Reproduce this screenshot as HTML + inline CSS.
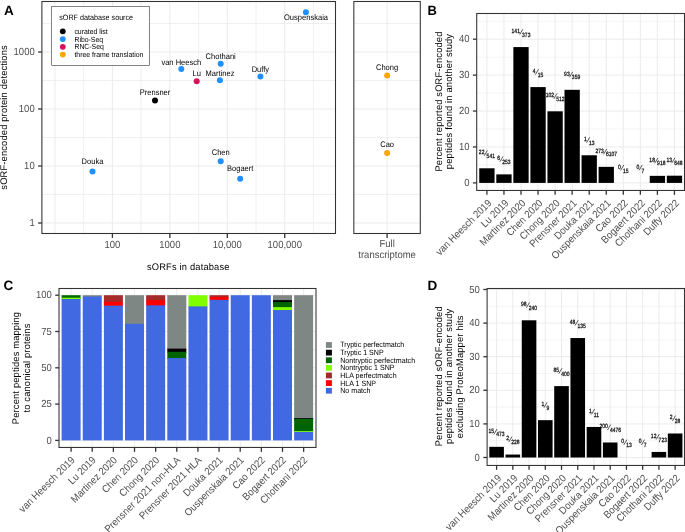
<!DOCTYPE html>
<html><head><meta charset="utf-8"><style>
html,body{margin:0;padding:0;background:#fff;}
svg{display:block;will-change:transform;}
text{font-family:"Liberation Sans",sans-serif;text-rendering:geometricPrecision;}
</style></head><body>
<svg width="685" height="532" viewBox="0 0 685 532">
<rect x="0" y="0" width="685" height="532" fill="#fff"/>
<defs></defs>
<rect x="41.90" y="1.50" width="293.60" height="232.00" fill="#fff"/>
<rect x="353.85" y="1.50" width="66.45" height="232.00" fill="#fff"/>
<line x1="54.95" y1="1.50" x2="54.95" y2="233.50" stroke="#EBEBEB" stroke-width="1.0"/>
<line x1="83.68" y1="1.50" x2="83.68" y2="233.50" stroke="#EBEBEB" stroke-width="0.75"/>
<line x1="112.40" y1="1.50" x2="112.40" y2="233.50" stroke="#EBEBEB" stroke-width="1.0"/>
<line x1="141.12" y1="1.50" x2="141.12" y2="233.50" stroke="#EBEBEB" stroke-width="0.75"/>
<line x1="169.85" y1="1.50" x2="169.85" y2="233.50" stroke="#EBEBEB" stroke-width="1.0"/>
<line x1="198.58" y1="1.50" x2="198.58" y2="233.50" stroke="#EBEBEB" stroke-width="0.75"/>
<line x1="227.30" y1="1.50" x2="227.30" y2="233.50" stroke="#EBEBEB" stroke-width="1.0"/>
<line x1="256.02" y1="1.50" x2="256.02" y2="233.50" stroke="#EBEBEB" stroke-width="0.75"/>
<line x1="284.75" y1="1.50" x2="284.75" y2="233.50" stroke="#EBEBEB" stroke-width="1.0"/>
<line x1="313.48" y1="1.50" x2="313.48" y2="233.50" stroke="#EBEBEB" stroke-width="0.75"/>
<line x1="41.90" y1="223.00" x2="335.50" y2="223.00" stroke="#EBEBEB" stroke-width="1.0"/>
<line x1="353.85" y1="223.00" x2="420.30" y2="223.00" stroke="#EBEBEB" stroke-width="1.0"/>
<line x1="41.90" y1="194.50" x2="335.50" y2="194.50" stroke="#EBEBEB" stroke-width="0.75"/>
<line x1="353.85" y1="194.50" x2="420.30" y2="194.50" stroke="#EBEBEB" stroke-width="0.75"/>
<line x1="41.90" y1="166.00" x2="335.50" y2="166.00" stroke="#EBEBEB" stroke-width="1.0"/>
<line x1="353.85" y1="166.00" x2="420.30" y2="166.00" stroke="#EBEBEB" stroke-width="1.0"/>
<line x1="41.90" y1="137.50" x2="335.50" y2="137.50" stroke="#EBEBEB" stroke-width="0.75"/>
<line x1="353.85" y1="137.50" x2="420.30" y2="137.50" stroke="#EBEBEB" stroke-width="0.75"/>
<line x1="41.90" y1="109.00" x2="335.50" y2="109.00" stroke="#EBEBEB" stroke-width="1.0"/>
<line x1="353.85" y1="109.00" x2="420.30" y2="109.00" stroke="#EBEBEB" stroke-width="1.0"/>
<line x1="41.90" y1="80.50" x2="335.50" y2="80.50" stroke="#EBEBEB" stroke-width="0.75"/>
<line x1="353.85" y1="80.50" x2="420.30" y2="80.50" stroke="#EBEBEB" stroke-width="0.75"/>
<line x1="41.90" y1="52.00" x2="335.50" y2="52.00" stroke="#EBEBEB" stroke-width="1.0"/>
<line x1="353.85" y1="52.00" x2="420.30" y2="52.00" stroke="#EBEBEB" stroke-width="1.0"/>
<line x1="41.90" y1="23.50" x2="335.50" y2="23.50" stroke="#EBEBEB" stroke-width="0.75"/>
<line x1="353.85" y1="23.50" x2="420.30" y2="23.50" stroke="#EBEBEB" stroke-width="0.75"/>
<line x1="387.10" y1="1.50" x2="387.10" y2="233.50" stroke="#EBEBEB" stroke-width="1.0"/>
<rect x="41.90" y="1.50" width="293.60" height="232.00" fill="none" stroke="#333333" stroke-width="1.07"/>
<rect x="353.85" y="1.50" width="66.45" height="232.00" fill="none" stroke="#333333" stroke-width="1.07"/>
<line x1="38.10" y1="223.00" x2="41.90" y2="223.00" stroke="#333333" stroke-width="1.3"/>
<text transform="translate(34.70 226.15) scale(1 1.0800)" font-size="9.5" fill="#4D4D4D" text-anchor="end">1</text>
<line x1="38.10" y1="166.00" x2="41.90" y2="166.00" stroke="#333333" stroke-width="1.3"/>
<text transform="translate(34.70 169.15) scale(1 1.0800)" font-size="9.5" fill="#4D4D4D" text-anchor="end">10</text>
<line x1="38.10" y1="109.00" x2="41.90" y2="109.00" stroke="#333333" stroke-width="1.3"/>
<text transform="translate(34.70 112.15) scale(1 1.0800)" font-size="9.5" fill="#4D4D4D" text-anchor="end">100</text>
<line x1="38.10" y1="52.00" x2="41.90" y2="52.00" stroke="#333333" stroke-width="1.3"/>
<text transform="translate(34.70 55.15) scale(1 1.0800)" font-size="9.5" fill="#4D4D4D" text-anchor="end">1000</text>
<line x1="112.40" y1="233.50" x2="112.40" y2="237.90" stroke="#333333" stroke-width="1.3"/>
<text transform="translate(112.40 247.80) scale(1 1.0800)" font-size="9.5" fill="#4D4D4D" text-anchor="middle">100</text>
<line x1="169.85" y1="233.50" x2="169.85" y2="237.90" stroke="#333333" stroke-width="1.3"/>
<text transform="translate(169.85 247.80) scale(1 1.0800)" font-size="9.5" fill="#4D4D4D" text-anchor="middle">1000</text>
<line x1="227.30" y1="233.50" x2="227.30" y2="237.90" stroke="#333333" stroke-width="1.3"/>
<text transform="translate(227.30 247.80) scale(1 1.0800)" font-size="9.5" fill="#4D4D4D" text-anchor="middle">10,000</text>
<line x1="284.75" y1="233.50" x2="284.75" y2="237.90" stroke="#333333" stroke-width="1.3"/>
<text transform="translate(284.75 247.80) scale(1 1.0800)" font-size="9.5" fill="#4D4D4D" text-anchor="middle">100,000</text>
<line x1="387.10" y1="233.50" x2="387.10" y2="237.90" stroke="#333333" stroke-width="1.3"/>
<text transform="translate(387.10 246.80) scale(1 1.0800)" font-size="9.5" fill="#4D4D4D" text-anchor="middle">Full</text>
<text transform="translate(387.10 257.60) scale(1 1.0800)" font-size="9.5" fill="#4D4D4D" text-anchor="middle">transcriptome</text>
<text transform="translate(188.30 270.20) scale(1 1.0300)" font-size="9.3" fill="#000" text-anchor="middle" letter-spacing="0.18">sORFs in database</text>
<text transform="translate(7.10 117.40) rotate(-90) scale(1 1.0300)" font-size="9.3" fill="#000" text-anchor="middle" letter-spacing="0.18">sORF-encoded protein detections</text>
<circle cx="305.90" cy="12.30" r="3.0" fill="#1E90FF"/>
<circle cx="260.40" cy="76.50" r="3.0" fill="#1E90FF"/>
<circle cx="220.70" cy="63.70" r="3.0" fill="#1E90FF"/>
<circle cx="181.30" cy="68.90" r="3.0" fill="#1E90FF"/>
<circle cx="219.90" cy="80.30" r="3.0" fill="#1E90FF"/>
<circle cx="196.70" cy="81.20" r="3.0" fill="#D7125C"/>
<circle cx="155.00" cy="100.40" r="3.0" fill="#000"/>
<circle cx="92.50" cy="171.50" r="3.0" fill="#1E90FF"/>
<circle cx="220.70" cy="161.30" r="3.0" fill="#1E90FF"/>
<circle cx="240.20" cy="178.80" r="3.0" fill="#1E90FF"/>
<circle cx="387.10" cy="75.50" r="3.0" fill="#FFA500"/>
<circle cx="387.10" cy="153.00" r="3.0" fill="#FFA500"/>
<text transform="translate(306.00 19.90) scale(1 1.0800)" font-size="7.55" fill="#000" text-anchor="middle">Ouspenskaia</text>
<text transform="translate(260.40 71.50) scale(1 1.0800)" font-size="7.55" fill="#000" text-anchor="middle">Duffy</text>
<text transform="translate(220.70 59.30) scale(1 1.0800)" font-size="7.55" fill="#000" text-anchor="middle">Chothani</text>
<text transform="translate(181.30 64.50) scale(1 1.0800)" font-size="7.55" fill="#000" text-anchor="middle">van Heesch</text>
<text transform="translate(220.00 75.60) scale(1 1.0800)" font-size="7.55" fill="#000" text-anchor="middle">Martinez</text>
<text transform="translate(196.70 76.30) scale(1 1.0800)" font-size="7.55" fill="#000" text-anchor="middle">Lu</text>
<text transform="translate(155.00 95.20) scale(1 1.0800)" font-size="7.55" fill="#000" text-anchor="middle">Prensner</text>
<text transform="translate(92.50 163.80) scale(1 1.0800)" font-size="7.55" fill="#000" text-anchor="middle">Douka</text>
<text transform="translate(220.70 155.00) scale(1 1.0800)" font-size="7.55" fill="#000" text-anchor="middle">Chen</text>
<text transform="translate(240.20 171.40) scale(1 1.0800)" font-size="7.55" fill="#000" text-anchor="middle">Bogaert</text>
<text transform="translate(387.10 70.00) scale(1 1.0800)" font-size="7.55" fill="#000" text-anchor="middle">Chong</text>
<text transform="translate(387.10 146.60) scale(1 1.0800)" font-size="7.55" fill="#000" text-anchor="middle">Cao</text>
<rect x="51.70" y="6.50" width="97.70" height="58.90" fill="#fff" stroke="#333333" stroke-width="0.6"/>
<text transform="translate(59.20 20.00) scale(1 1.0800)" font-size="7.2" fill="#000">sORF database source</text>
<circle cx="62.80" cy="31.30" r="2.9" fill="#000"/>
<text transform="translate(74.40 33.80) scale(1 1.0800)" font-size="6.9" fill="#000">curated list</text>
<circle cx="62.80" cy="39.05" r="2.9" fill="#1E90FF"/>
<text transform="translate(74.40 41.55) scale(1 1.0800)" font-size="6.9" fill="#000">Ribo-Seq</text>
<circle cx="62.80" cy="46.80" r="2.9" fill="#D7125C"/>
<text transform="translate(74.40 49.30) scale(1 1.0800)" font-size="6.9" fill="#000">RNC-Seq</text>
<circle cx="62.80" cy="54.55" r="2.9" fill="#FFA500"/>
<text transform="translate(74.40 57.05) scale(1 1.0800)" font-size="6.9" fill="#000">three frame translation</text>
<text transform="translate(4.00 15.20)" font-size="13.5" fill="#000" font-weight="bold">A</text>
<rect x="476.70" y="13.50" width="207.80" height="176.95" fill="#fff"/>
<line x1="476.70" y1="182.90" x2="684.50" y2="182.90" stroke="#EBEBEB" stroke-width="1.0"/>
<line x1="476.70" y1="164.94" x2="684.50" y2="164.94" stroke="#EBEBEB" stroke-width="0.55"/>
<line x1="476.70" y1="146.97" x2="684.50" y2="146.97" stroke="#EBEBEB" stroke-width="1.0"/>
<line x1="476.70" y1="129.00" x2="684.50" y2="129.00" stroke="#EBEBEB" stroke-width="0.55"/>
<line x1="476.70" y1="111.04" x2="684.50" y2="111.04" stroke="#EBEBEB" stroke-width="1.0"/>
<line x1="476.70" y1="93.08" x2="684.50" y2="93.08" stroke="#EBEBEB" stroke-width="0.55"/>
<line x1="476.70" y1="75.11" x2="684.50" y2="75.11" stroke="#EBEBEB" stroke-width="1.0"/>
<line x1="476.70" y1="57.15" x2="684.50" y2="57.15" stroke="#EBEBEB" stroke-width="0.55"/>
<line x1="476.70" y1="39.18" x2="684.50" y2="39.18" stroke="#EBEBEB" stroke-width="1.0"/>
<line x1="476.70" y1="21.22" x2="684.50" y2="21.22" stroke="#EBEBEB" stroke-width="0.55"/>
<line x1="486.90" y1="13.50" x2="486.90" y2="190.45" stroke="#EBEBEB" stroke-width="1.0"/>
<line x1="503.95" y1="13.50" x2="503.95" y2="190.45" stroke="#EBEBEB" stroke-width="1.0"/>
<line x1="521.00" y1="13.50" x2="521.00" y2="190.45" stroke="#EBEBEB" stroke-width="1.0"/>
<line x1="538.05" y1="13.50" x2="538.05" y2="190.45" stroke="#EBEBEB" stroke-width="1.0"/>
<line x1="555.10" y1="13.50" x2="555.10" y2="190.45" stroke="#EBEBEB" stroke-width="1.0"/>
<line x1="572.15" y1="13.50" x2="572.15" y2="190.45" stroke="#EBEBEB" stroke-width="1.0"/>
<line x1="589.20" y1="13.50" x2="589.20" y2="190.45" stroke="#EBEBEB" stroke-width="1.0"/>
<line x1="606.25" y1="13.50" x2="606.25" y2="190.45" stroke="#EBEBEB" stroke-width="1.0"/>
<line x1="623.30" y1="13.50" x2="623.30" y2="190.45" stroke="#EBEBEB" stroke-width="1.0"/>
<line x1="640.35" y1="13.50" x2="640.35" y2="190.45" stroke="#EBEBEB" stroke-width="1.0"/>
<line x1="657.40" y1="13.50" x2="657.40" y2="190.45" stroke="#EBEBEB" stroke-width="1.0"/>
<line x1="674.45" y1="13.50" x2="674.45" y2="190.45" stroke="#EBEBEB" stroke-width="1.0"/>
<rect x="479.25" y="168.29" width="15.30" height="14.61" fill="#000"/>
<rect x="496.30" y="174.38" width="15.30" height="8.52" fill="#000"/>
<rect x="513.35" y="47.08" width="15.30" height="135.82" fill="#000"/>
<rect x="530.40" y="87.09" width="15.30" height="95.81" fill="#000"/>
<rect x="547.45" y="111.32" width="15.30" height="71.58" fill="#000"/>
<rect x="564.50" y="89.82" width="15.30" height="93.08" fill="#000"/>
<rect x="581.55" y="155.26" width="15.30" height="27.64" fill="#000"/>
<rect x="598.60" y="166.84" width="15.30" height="16.06" fill="#000"/>
<rect x="649.75" y="175.85" width="15.30" height="7.05" fill="#000"/>
<rect x="666.80" y="175.69" width="15.30" height="7.21" fill="#000"/>
<rect x="476.70" y="13.50" width="207.80" height="176.95" fill="none" stroke="#333333" stroke-width="1.07"/>
<line x1="472.90" y1="182.90" x2="476.70" y2="182.90" stroke="#333333" stroke-width="1.3"/>
<text transform="translate(469.50 186.05) scale(1 1.0800)" font-size="9.5" fill="#4D4D4D" text-anchor="end">0</text>
<line x1="472.90" y1="146.97" x2="476.70" y2="146.97" stroke="#333333" stroke-width="1.3"/>
<text transform="translate(469.50 150.12) scale(1 1.0800)" font-size="9.5" fill="#4D4D4D" text-anchor="end">10</text>
<line x1="472.90" y1="111.04" x2="476.70" y2="111.04" stroke="#333333" stroke-width="1.3"/>
<text transform="translate(469.50 114.19) scale(1 1.0800)" font-size="9.5" fill="#4D4D4D" text-anchor="end">20</text>
<line x1="472.90" y1="75.11" x2="476.70" y2="75.11" stroke="#333333" stroke-width="1.3"/>
<text transform="translate(469.50 78.26) scale(1 1.0800)" font-size="9.5" fill="#4D4D4D" text-anchor="end">30</text>
<line x1="472.90" y1="39.18" x2="476.70" y2="39.18" stroke="#333333" stroke-width="1.3"/>
<text transform="translate(469.50 42.33) scale(1 1.0800)" font-size="9.5" fill="#4D4D4D" text-anchor="end">40</text>
<line x1="486.90" y1="190.45" x2="486.90" y2="194.85" stroke="#333333" stroke-width="1.3"/>
<text transform="translate(492.20 203.65) rotate(-45) scale(1 1.0800)" font-size="9.5" fill="#4D4D4D" text-anchor="end">van Heesch 2019</text>
<line x1="503.95" y1="190.45" x2="503.95" y2="194.85" stroke="#333333" stroke-width="1.3"/>
<text transform="translate(509.25 203.65) rotate(-45) scale(1 1.0800)" font-size="9.5" fill="#4D4D4D" text-anchor="end">Lu 2019</text>
<line x1="521.00" y1="190.45" x2="521.00" y2="194.85" stroke="#333333" stroke-width="1.3"/>
<text transform="translate(526.30 203.65) rotate(-45) scale(1 1.0800)" font-size="9.5" fill="#4D4D4D" text-anchor="end">Martinez 2020</text>
<line x1="538.05" y1="190.45" x2="538.05" y2="194.85" stroke="#333333" stroke-width="1.3"/>
<text transform="translate(543.35 203.65) rotate(-45) scale(1 1.0800)" font-size="9.5" fill="#4D4D4D" text-anchor="end">Chen 2020</text>
<line x1="555.10" y1="190.45" x2="555.10" y2="194.85" stroke="#333333" stroke-width="1.3"/>
<text transform="translate(560.40 203.65) rotate(-45) scale(1 1.0800)" font-size="9.5" fill="#4D4D4D" text-anchor="end">Chong 2020</text>
<line x1="572.15" y1="190.45" x2="572.15" y2="194.85" stroke="#333333" stroke-width="1.3"/>
<text transform="translate(577.45 203.65) rotate(-45) scale(1 1.0800)" font-size="9.5" fill="#4D4D4D" text-anchor="end">Prensner 2021</text>
<line x1="589.20" y1="190.45" x2="589.20" y2="194.85" stroke="#333333" stroke-width="1.3"/>
<text transform="translate(594.50 203.65) rotate(-45) scale(1 1.0800)" font-size="9.5" fill="#4D4D4D" text-anchor="end">Douka 2021</text>
<line x1="606.25" y1="190.45" x2="606.25" y2="194.85" stroke="#333333" stroke-width="1.3"/>
<text transform="translate(611.55 203.65) rotate(-45) scale(1 1.0800)" font-size="9.5" fill="#4D4D4D" text-anchor="end">Ouspenskaia 2021</text>
<line x1="623.30" y1="190.45" x2="623.30" y2="194.85" stroke="#333333" stroke-width="1.3"/>
<text transform="translate(628.60 203.65) rotate(-45) scale(1 1.0800)" font-size="9.5" fill="#4D4D4D" text-anchor="end">Cao 2022</text>
<line x1="640.35" y1="190.45" x2="640.35" y2="194.85" stroke="#333333" stroke-width="1.3"/>
<text transform="translate(645.65 203.65) rotate(-45) scale(1 1.0800)" font-size="9.5" fill="#4D4D4D" text-anchor="end">Bogaert 2022</text>
<line x1="657.40" y1="190.45" x2="657.40" y2="194.85" stroke="#333333" stroke-width="1.3"/>
<text transform="translate(662.70 203.65) rotate(-45) scale(1 1.0800)" font-size="9.5" fill="#4D4D4D" text-anchor="end">Chothani 2022</text>
<line x1="674.45" y1="190.45" x2="674.45" y2="194.85" stroke="#333333" stroke-width="1.3"/>
<text transform="translate(679.75 203.65) rotate(-45) scale(1 1.0800)" font-size="9.5" fill="#4D4D4D" text-anchor="end">Duffy 2022</text>
<text transform="translate(478.86 154.19) scale(1 1.2200)" font-size="5.0" fill="#111" stroke="#111" stroke-width="0.22" stroke-linejoin="round">22</text>
<line x1="484.22" y1="155.79" x2="487.40" y2="150.39" stroke="#222" stroke-width="0.75"/>
<text transform="translate(486.60 157.89) scale(1 1.2200)" font-size="5.0" fill="#111" stroke="#111" stroke-width="0.22" stroke-linejoin="round">541</text>
<text transform="translate(497.30 160.28) scale(1 1.2200)" font-size="5.0" fill="#111" stroke="#111" stroke-width="0.22" stroke-linejoin="round">6</text>
<line x1="499.88" y1="161.88" x2="503.06" y2="156.48" stroke="#222" stroke-width="0.75"/>
<text transform="translate(502.26 163.98) scale(1 1.2200)" font-size="5.0" fill="#111" stroke="#111" stroke-width="0.22" stroke-linejoin="round">253</text>
<text transform="translate(511.57 32.98) scale(1 1.2200)" font-size="5.0" fill="#111" stroke="#111" stroke-width="0.22" stroke-linejoin="round">141</text>
<line x1="519.71" y1="34.58" x2="522.89" y2="29.18" stroke="#222" stroke-width="0.75"/>
<text transform="translate(522.09 36.68) scale(1 1.2200)" font-size="5.0" fill="#111" stroke="#111" stroke-width="0.22" stroke-linejoin="round">373</text>
<text transform="translate(532.79 72.99) scale(1 1.2200)" font-size="5.0" fill="#111" stroke="#111" stroke-width="0.22" stroke-linejoin="round">4</text>
<line x1="535.37" y1="74.59" x2="538.55" y2="69.19" stroke="#222" stroke-width="0.75"/>
<text transform="translate(537.75 76.69) scale(1 1.2200)" font-size="5.0" fill="#111" stroke="#111" stroke-width="0.22" stroke-linejoin="round">15</text>
<text transform="translate(545.67 97.22) scale(1 1.2200)" font-size="5.0" fill="#111" stroke="#111" stroke-width="0.22" stroke-linejoin="round">102</text>
<line x1="553.81" y1="98.82" x2="556.99" y2="93.42" stroke="#222" stroke-width="0.75"/>
<text transform="translate(556.19 100.92) scale(1 1.2200)" font-size="5.0" fill="#111" stroke="#111" stroke-width="0.22" stroke-linejoin="round">512</text>
<text transform="translate(564.11 75.72) scale(1 1.2200)" font-size="5.0" fill="#111" stroke="#111" stroke-width="0.22" stroke-linejoin="round">93</text>
<line x1="569.47" y1="77.32" x2="572.65" y2="71.92" stroke="#222" stroke-width="0.75"/>
<text transform="translate(571.85 79.42) scale(1 1.2200)" font-size="5.0" fill="#111" stroke="#111" stroke-width="0.22" stroke-linejoin="round">359</text>
<text transform="translate(583.94 141.16) scale(1 1.2200)" font-size="5.0" fill="#111" stroke="#111" stroke-width="0.22" stroke-linejoin="round">1</text>
<line x1="586.52" y1="142.76" x2="589.70" y2="137.36" stroke="#222" stroke-width="0.75"/>
<text transform="translate(588.90 144.86) scale(1 1.2200)" font-size="5.0" fill="#111" stroke="#111" stroke-width="0.22" stroke-linejoin="round">13</text>
<text transform="translate(595.43 152.74) scale(1 1.2200)" font-size="5.0" fill="#111" stroke="#111" stroke-width="0.22" stroke-linejoin="round">273</text>
<line x1="603.57" y1="154.34" x2="606.75" y2="148.94" stroke="#222" stroke-width="0.75"/>
<text transform="translate(605.95 156.44) scale(1 1.2200)" font-size="5.0" fill="#111" stroke="#111" stroke-width="0.22" stroke-linejoin="round">6107</text>
<text transform="translate(618.04 168.80) scale(1 1.2200)" font-size="5.0" fill="#111" stroke="#111" stroke-width="0.22" stroke-linejoin="round">0</text>
<line x1="620.62" y1="170.40" x2="623.80" y2="165.00" stroke="#222" stroke-width="0.75"/>
<text transform="translate(623.00 172.50) scale(1 1.2200)" font-size="5.0" fill="#111" stroke="#111" stroke-width="0.22" stroke-linejoin="round">15</text>
<text transform="translate(636.48 168.80) scale(1 1.2200)" font-size="5.0" fill="#111" stroke="#111" stroke-width="0.22" stroke-linejoin="round">0</text>
<line x1="639.06" y1="170.40" x2="642.24" y2="165.00" stroke="#222" stroke-width="0.75"/>
<text transform="translate(641.44 172.50) scale(1 1.2200)" font-size="5.0" fill="#111" stroke="#111" stroke-width="0.22" stroke-linejoin="round">7</text>
<text transform="translate(649.36 161.75) scale(1 1.2200)" font-size="5.0" fill="#111" stroke="#111" stroke-width="0.22" stroke-linejoin="round">18</text>
<line x1="654.72" y1="163.35" x2="657.90" y2="157.95" stroke="#222" stroke-width="0.75"/>
<text transform="translate(657.10 165.45) scale(1 1.2200)" font-size="5.0" fill="#111" stroke="#111" stroke-width="0.22" stroke-linejoin="round">918</text>
<text transform="translate(666.41 161.59) scale(1 1.2200)" font-size="5.0" fill="#111" stroke="#111" stroke-width="0.22" stroke-linejoin="round">13</text>
<line x1="671.77" y1="163.19" x2="674.95" y2="157.79" stroke="#222" stroke-width="0.75"/>
<text transform="translate(674.15 165.29) scale(1 1.2200)" font-size="5.0" fill="#111" stroke="#111" stroke-width="0.22" stroke-linejoin="round">648</text>
<text transform="translate(442.10 101.50) rotate(-90) scale(1 1.0300)" font-size="9.3" fill="#000" text-anchor="middle" letter-spacing="0.18">Percent reported sORF-encoded</text>
<text transform="translate(452.20 101.50) rotate(-90) scale(1 1.0300)" font-size="9.3" fill="#000" text-anchor="middle" letter-spacing="0.18">peptides found in another study</text>
<text transform="translate(427.60 15.20) scale(1 1.0300)" font-size="13.0" fill="#000" font-weight="bold">B</text>
<rect x="59.00" y="288.50" width="257.00" height="158.95" fill="#fff"/>
<line x1="59.00" y1="440.40" x2="316.00" y2="440.40" stroke="#EBEBEB" stroke-width="1.0"/>
<line x1="59.00" y1="404.10" x2="316.00" y2="404.10" stroke="#EBEBEB" stroke-width="1.0"/>
<line x1="59.00" y1="367.80" x2="316.00" y2="367.80" stroke="#EBEBEB" stroke-width="1.0"/>
<line x1="59.00" y1="331.50" x2="316.00" y2="331.50" stroke="#EBEBEB" stroke-width="1.0"/>
<line x1="59.00" y1="295.20" x2="316.00" y2="295.20" stroke="#EBEBEB" stroke-width="1.0"/>
<line x1="59.00" y1="422.25" x2="316.00" y2="422.25" stroke="#EBEBEB" stroke-width="0.75"/>
<line x1="59.00" y1="385.95" x2="316.00" y2="385.95" stroke="#EBEBEB" stroke-width="0.75"/>
<line x1="59.00" y1="349.65" x2="316.00" y2="349.65" stroke="#EBEBEB" stroke-width="0.75"/>
<line x1="59.00" y1="313.35" x2="316.00" y2="313.35" stroke="#EBEBEB" stroke-width="0.75"/>
<line x1="71.10" y1="288.50" x2="71.10" y2="447.45" stroke="#EBEBEB" stroke-width="1.0"/>
<line x1="92.24" y1="288.50" x2="92.24" y2="447.45" stroke="#EBEBEB" stroke-width="1.0"/>
<line x1="113.38" y1="288.50" x2="113.38" y2="447.45" stroke="#EBEBEB" stroke-width="1.0"/>
<line x1="134.52" y1="288.50" x2="134.52" y2="447.45" stroke="#EBEBEB" stroke-width="1.0"/>
<line x1="155.66" y1="288.50" x2="155.66" y2="447.45" stroke="#EBEBEB" stroke-width="1.0"/>
<line x1="176.80" y1="288.50" x2="176.80" y2="447.45" stroke="#EBEBEB" stroke-width="1.0"/>
<line x1="197.94" y1="288.50" x2="197.94" y2="447.45" stroke="#EBEBEB" stroke-width="1.0"/>
<line x1="219.08" y1="288.50" x2="219.08" y2="447.45" stroke="#EBEBEB" stroke-width="1.0"/>
<line x1="240.22" y1="288.50" x2="240.22" y2="447.45" stroke="#EBEBEB" stroke-width="1.0"/>
<line x1="261.36" y1="288.50" x2="261.36" y2="447.45" stroke="#EBEBEB" stroke-width="1.0"/>
<line x1="282.50" y1="288.50" x2="282.50" y2="447.45" stroke="#EBEBEB" stroke-width="1.0"/>
<line x1="303.64" y1="288.50" x2="303.64" y2="447.45" stroke="#EBEBEB" stroke-width="1.0"/>
<rect x="61.60" y="295.20" width="19.00" height="3.47" fill="#006400"/>
<rect x="61.60" y="297.67" width="19.00" height="2.31" fill="#7FFF00"/>
<rect x="61.60" y="298.98" width="19.00" height="141.42" fill="#4169E1"/>
<rect x="82.74" y="295.20" width="19.00" height="2.31" fill="#7F8784"/>
<rect x="82.74" y="296.51" width="19.00" height="143.89" fill="#4169E1"/>
<rect x="103.88" y="295.20" width="19.00" height="7.61" fill="#A52A2A"/>
<rect x="103.88" y="301.81" width="19.00" height="4.85" fill="#FF0000"/>
<rect x="103.88" y="305.65" width="19.00" height="134.75" fill="#4169E1"/>
<rect x="125.02" y="295.20" width="19.00" height="29.60" fill="#7F8784"/>
<rect x="125.02" y="323.80" width="19.00" height="116.60" fill="#4169E1"/>
<rect x="146.16" y="295.20" width="19.00" height="6.08" fill="#A52A2A"/>
<rect x="146.16" y="300.28" width="19.00" height="6.08" fill="#FF0000"/>
<rect x="146.16" y="305.36" width="19.00" height="135.04" fill="#4169E1"/>
<rect x="167.30" y="295.20" width="19.00" height="54.43" fill="#7F8784"/>
<rect x="167.30" y="348.63" width="19.00" height="4.19" fill="#000"/>
<rect x="167.30" y="351.83" width="19.00" height="7.24" fill="#006400"/>
<rect x="167.30" y="358.07" width="19.00" height="82.33" fill="#4169E1"/>
<rect x="188.44" y="295.20" width="19.00" height="12.18" fill="#7FFF00"/>
<rect x="188.44" y="306.38" width="19.00" height="134.02" fill="#4169E1"/>
<rect x="209.58" y="295.20" width="19.00" height="2.74" fill="#A52A2A"/>
<rect x="209.58" y="296.94" width="19.00" height="3.90" fill="#FF0000"/>
<rect x="209.58" y="299.85" width="19.00" height="140.55" fill="#4169E1"/>
<rect x="230.72" y="295.20" width="19.00" height="145.20" fill="#4169E1"/>
<rect x="251.86" y="295.20" width="19.00" height="145.20" fill="#4169E1"/>
<rect x="273.00" y="295.20" width="19.00" height="5.94" fill="#7F8784"/>
<rect x="273.00" y="300.14" width="19.00" height="2.89" fill="#000"/>
<rect x="273.00" y="302.02" width="19.00" height="6.08" fill="#006400"/>
<rect x="273.00" y="307.11" width="19.00" height="3.90" fill="#7FFF00"/>
<rect x="273.00" y="310.01" width="19.00" height="130.39" fill="#4169E1"/>
<rect x="294.14" y="295.20" width="19.00" height="123.98" fill="#7F8784"/>
<rect x="294.14" y="418.18" width="19.00" height="1.73" fill="#000"/>
<rect x="294.14" y="418.91" width="19.00" height="13.05" fill="#006400"/>
<rect x="294.14" y="430.96" width="19.00" height="1.87" fill="#7FFF00"/>
<rect x="294.14" y="431.83" width="19.00" height="8.57" fill="#4169E1"/>
<rect x="59.00" y="288.50" width="257.00" height="158.95" fill="none" stroke="#333333" stroke-width="1.07"/>
<line x1="55.20" y1="440.40" x2="59.00" y2="440.40" stroke="#333333" stroke-width="1.3"/>
<text transform="translate(51.80 443.55) scale(1 1.0800)" font-size="9.5" fill="#4D4D4D" text-anchor="end">0</text>
<line x1="55.20" y1="404.10" x2="59.00" y2="404.10" stroke="#333333" stroke-width="1.3"/>
<text transform="translate(51.80 407.25) scale(1 1.0800)" font-size="9.5" fill="#4D4D4D" text-anchor="end">25</text>
<line x1="55.20" y1="367.80" x2="59.00" y2="367.80" stroke="#333333" stroke-width="1.3"/>
<text transform="translate(51.80 370.95) scale(1 1.0800)" font-size="9.5" fill="#4D4D4D" text-anchor="end">50</text>
<line x1="55.20" y1="331.50" x2="59.00" y2="331.50" stroke="#333333" stroke-width="1.3"/>
<text transform="translate(51.80 334.65) scale(1 1.0800)" font-size="9.5" fill="#4D4D4D" text-anchor="end">75</text>
<line x1="55.20" y1="295.20" x2="59.00" y2="295.20" stroke="#333333" stroke-width="1.3"/>
<text transform="translate(51.80 298.35) scale(1 1.0800)" font-size="9.5" fill="#4D4D4D" text-anchor="end">100</text>
<line x1="71.10" y1="447.45" x2="71.10" y2="451.85" stroke="#333333" stroke-width="1.3"/>
<text transform="translate(75.40 460.65) rotate(-45) scale(1 1.0800)" font-size="9.5" fill="#4D4D4D" text-anchor="end">van Heesch 2019</text>
<line x1="92.24" y1="447.45" x2="92.24" y2="451.85" stroke="#333333" stroke-width="1.3"/>
<text transform="translate(96.54 460.65) rotate(-45) scale(1 1.0800)" font-size="9.5" fill="#4D4D4D" text-anchor="end">Lu 2019</text>
<line x1="113.38" y1="447.45" x2="113.38" y2="451.85" stroke="#333333" stroke-width="1.3"/>
<text transform="translate(117.68 460.65) rotate(-45) scale(1 1.0800)" font-size="9.5" fill="#4D4D4D" text-anchor="end">Martinez 2020</text>
<line x1="134.52" y1="447.45" x2="134.52" y2="451.85" stroke="#333333" stroke-width="1.3"/>
<text transform="translate(138.82 460.65) rotate(-45) scale(1 1.0800)" font-size="9.5" fill="#4D4D4D" text-anchor="end">Chen 2020</text>
<line x1="155.66" y1="447.45" x2="155.66" y2="451.85" stroke="#333333" stroke-width="1.3"/>
<text transform="translate(159.96 460.65) rotate(-45) scale(1 1.0800)" font-size="9.5" fill="#4D4D4D" text-anchor="end">Chong 2020</text>
<line x1="176.80" y1="447.45" x2="176.80" y2="451.85" stroke="#333333" stroke-width="1.3"/>
<text transform="translate(181.10 460.65) rotate(-45) scale(1 1.0800)" font-size="9.5" fill="#4D4D4D" text-anchor="end">Prensner 2021 non-HLA</text>
<line x1="197.94" y1="447.45" x2="197.94" y2="451.85" stroke="#333333" stroke-width="1.3"/>
<text transform="translate(202.24 460.65) rotate(-45) scale(1 1.0800)" font-size="9.5" fill="#4D4D4D" text-anchor="end">Prensner 2021 HLA</text>
<line x1="219.08" y1="447.45" x2="219.08" y2="451.85" stroke="#333333" stroke-width="1.3"/>
<text transform="translate(223.38 460.65) rotate(-45) scale(1 1.0800)" font-size="9.5" fill="#4D4D4D" text-anchor="end">Douka 2021</text>
<line x1="240.22" y1="447.45" x2="240.22" y2="451.85" stroke="#333333" stroke-width="1.3"/>
<text transform="translate(244.52 460.65) rotate(-45) scale(1 1.0800)" font-size="9.5" fill="#4D4D4D" text-anchor="end">Ouspenskaia 2021</text>
<line x1="261.36" y1="447.45" x2="261.36" y2="451.85" stroke="#333333" stroke-width="1.3"/>
<text transform="translate(265.66 460.65) rotate(-45) scale(1 1.0800)" font-size="9.5" fill="#4D4D4D" text-anchor="end">Cao 2022</text>
<line x1="282.50" y1="447.45" x2="282.50" y2="451.85" stroke="#333333" stroke-width="1.3"/>
<text transform="translate(286.80 460.65) rotate(-45) scale(1 1.0800)" font-size="9.5" fill="#4D4D4D" text-anchor="end">Bogaert 2022</text>
<line x1="303.64" y1="447.45" x2="303.64" y2="451.85" stroke="#333333" stroke-width="1.3"/>
<text transform="translate(307.94 460.65) rotate(-45) scale(1 1.0800)" font-size="9.5" fill="#4D4D4D" text-anchor="end">Chothani 2022</text>
<text transform="translate(19.30 368.00) rotate(-90) scale(1 1.0300)" font-size="9.3" fill="#000" text-anchor="middle" letter-spacing="0.18">Percent peptides mapping</text>
<text transform="translate(29.50 368.00) rotate(-90) scale(1 1.0300)" font-size="9.3" fill="#000" text-anchor="middle" letter-spacing="0.18">to canonical proteins</text>
<text transform="translate(3.60 290.20)" font-size="13.5" fill="#000" font-weight="bold">C</text>
<rect x="325.90" y="342.10" width="6.00" height="5.80" fill="#7F8784"/>
<text transform="translate(340.20 347.40) scale(1 1.0800)" font-size="7.1" fill="#000">Tryptic perfectmatch</text>
<rect x="325.90" y="349.72" width="6.00" height="5.80" fill="#000"/>
<text transform="translate(340.20 355.02) scale(1 1.0800)" font-size="7.1" fill="#000">Tryptic 1 SNP</text>
<rect x="325.90" y="357.34" width="6.00" height="5.80" fill="#006400"/>
<text transform="translate(340.20 362.64) scale(1 1.0800)" font-size="7.1" fill="#000">Nontryptic perfectmatch</text>
<rect x="325.90" y="364.96" width="6.00" height="5.80" fill="#7FFF00"/>
<text transform="translate(340.20 370.26) scale(1 1.0800)" font-size="7.1" fill="#000">Nontryptic 1 SNP</text>
<rect x="325.90" y="372.58" width="6.00" height="5.80" fill="#A52A2A"/>
<text transform="translate(340.20 377.88) scale(1 1.0800)" font-size="7.1" fill="#000">HLA perfectmatch</text>
<rect x="325.90" y="380.20" width="6.00" height="5.80" fill="#FF0000"/>
<text transform="translate(340.20 385.50) scale(1 1.0800)" font-size="7.1" fill="#000">HLA 1 SNP</text>
<rect x="325.90" y="387.82" width="6.00" height="5.80" fill="#4169E1"/>
<text transform="translate(340.20 393.12) scale(1 1.0800)" font-size="7.1" fill="#000">No match</text>
<rect x="487.10" y="288.50" width="197.40" height="176.95" fill="#fff"/>
<line x1="487.10" y1="457.50" x2="684.50" y2="457.50" stroke="#EBEBEB" stroke-width="1.0"/>
<line x1="487.10" y1="440.70" x2="684.50" y2="440.70" stroke="#EBEBEB" stroke-width="0.55"/>
<line x1="487.10" y1="423.90" x2="684.50" y2="423.90" stroke="#EBEBEB" stroke-width="1.0"/>
<line x1="487.10" y1="407.10" x2="684.50" y2="407.10" stroke="#EBEBEB" stroke-width="0.55"/>
<line x1="487.10" y1="390.30" x2="684.50" y2="390.30" stroke="#EBEBEB" stroke-width="1.0"/>
<line x1="487.10" y1="373.50" x2="684.50" y2="373.50" stroke="#EBEBEB" stroke-width="0.55"/>
<line x1="487.10" y1="356.70" x2="684.50" y2="356.70" stroke="#EBEBEB" stroke-width="1.0"/>
<line x1="487.10" y1="339.90" x2="684.50" y2="339.90" stroke="#EBEBEB" stroke-width="0.55"/>
<line x1="487.10" y1="323.10" x2="684.50" y2="323.10" stroke="#EBEBEB" stroke-width="1.0"/>
<line x1="487.10" y1="306.30" x2="684.50" y2="306.30" stroke="#EBEBEB" stroke-width="0.55"/>
<line x1="487.10" y1="289.50" x2="684.50" y2="289.50" stroke="#EBEBEB" stroke-width="1.0"/>
<line x1="496.60" y1="288.50" x2="496.60" y2="465.45" stroke="#EBEBEB" stroke-width="1.0"/>
<line x1="512.83" y1="288.50" x2="512.83" y2="465.45" stroke="#EBEBEB" stroke-width="1.0"/>
<line x1="529.06" y1="288.50" x2="529.06" y2="465.45" stroke="#EBEBEB" stroke-width="1.0"/>
<line x1="545.29" y1="288.50" x2="545.29" y2="465.45" stroke="#EBEBEB" stroke-width="1.0"/>
<line x1="561.52" y1="288.50" x2="561.52" y2="465.45" stroke="#EBEBEB" stroke-width="1.0"/>
<line x1="577.75" y1="288.50" x2="577.75" y2="465.45" stroke="#EBEBEB" stroke-width="1.0"/>
<line x1="593.98" y1="288.50" x2="593.98" y2="465.45" stroke="#EBEBEB" stroke-width="1.0"/>
<line x1="610.21" y1="288.50" x2="610.21" y2="465.45" stroke="#EBEBEB" stroke-width="1.0"/>
<line x1="626.44" y1="288.50" x2="626.44" y2="465.45" stroke="#EBEBEB" stroke-width="1.0"/>
<line x1="642.67" y1="288.50" x2="642.67" y2="465.45" stroke="#EBEBEB" stroke-width="1.0"/>
<line x1="658.90" y1="288.50" x2="658.90" y2="465.45" stroke="#EBEBEB" stroke-width="1.0"/>
<line x1="675.13" y1="288.50" x2="675.13" y2="465.45" stroke="#EBEBEB" stroke-width="1.0"/>
<rect x="489.30" y="446.84" width="14.60" height="10.66" fill="#000"/>
<rect x="505.53" y="454.55" width="14.60" height="2.95" fill="#000"/>
<rect x="521.76" y="320.30" width="14.60" height="137.20" fill="#000"/>
<rect x="537.99" y="420.17" width="14.60" height="37.33" fill="#000"/>
<rect x="554.22" y="386.10" width="14.60" height="71.40" fill="#000"/>
<rect x="570.45" y="338.03" width="14.60" height="119.47" fill="#000"/>
<rect x="586.68" y="426.95" width="14.60" height="30.55" fill="#000"/>
<rect x="602.91" y="442.49" width="14.60" height="15.01" fill="#000"/>
<rect x="651.60" y="451.92" width="14.60" height="5.58" fill="#000"/>
<rect x="667.83" y="433.50" width="14.60" height="24.00" fill="#000"/>
<rect x="487.10" y="288.50" width="197.40" height="176.95" fill="none" stroke="#333333" stroke-width="1.07"/>
<line x1="483.30" y1="457.50" x2="487.10" y2="457.50" stroke="#333333" stroke-width="1.3"/>
<text transform="translate(479.90 460.65) scale(1 1.0800)" font-size="9.5" fill="#4D4D4D" text-anchor="end">0</text>
<line x1="483.30" y1="423.90" x2="487.10" y2="423.90" stroke="#333333" stroke-width="1.3"/>
<text transform="translate(479.90 427.05) scale(1 1.0800)" font-size="9.5" fill="#4D4D4D" text-anchor="end">10</text>
<line x1="483.30" y1="390.30" x2="487.10" y2="390.30" stroke="#333333" stroke-width="1.3"/>
<text transform="translate(479.90 393.45) scale(1 1.0800)" font-size="9.5" fill="#4D4D4D" text-anchor="end">20</text>
<line x1="483.30" y1="356.70" x2="487.10" y2="356.70" stroke="#333333" stroke-width="1.3"/>
<text transform="translate(479.90 359.85) scale(1 1.0800)" font-size="9.5" fill="#4D4D4D" text-anchor="end">30</text>
<line x1="483.30" y1="323.10" x2="487.10" y2="323.10" stroke="#333333" stroke-width="1.3"/>
<text transform="translate(479.90 326.25) scale(1 1.0800)" font-size="9.5" fill="#4D4D4D" text-anchor="end">40</text>
<line x1="483.30" y1="289.50" x2="487.10" y2="289.50" stroke="#333333" stroke-width="1.3"/>
<text transform="translate(479.90 292.65) scale(1 1.0800)" font-size="9.5" fill="#4D4D4D" text-anchor="end">50</text>
<line x1="496.60" y1="465.45" x2="496.60" y2="469.85" stroke="#333333" stroke-width="1.3"/>
<text transform="translate(501.90 478.65) rotate(-45) scale(1 1.0800)" font-size="9.5" fill="#4D4D4D" text-anchor="end">van Heesch 2019</text>
<line x1="512.83" y1="465.45" x2="512.83" y2="469.85" stroke="#333333" stroke-width="1.3"/>
<text transform="translate(518.13 478.65) rotate(-45) scale(1 1.0800)" font-size="9.5" fill="#4D4D4D" text-anchor="end">Lu 2019</text>
<line x1="529.06" y1="465.45" x2="529.06" y2="469.85" stroke="#333333" stroke-width="1.3"/>
<text transform="translate(534.36 478.65) rotate(-45) scale(1 1.0800)" font-size="9.5" fill="#4D4D4D" text-anchor="end">Martinez 2020</text>
<line x1="545.29" y1="465.45" x2="545.29" y2="469.85" stroke="#333333" stroke-width="1.3"/>
<text transform="translate(550.59 478.65) rotate(-45) scale(1 1.0800)" font-size="9.5" fill="#4D4D4D" text-anchor="end">Chen 2020</text>
<line x1="561.52" y1="465.45" x2="561.52" y2="469.85" stroke="#333333" stroke-width="1.3"/>
<text transform="translate(566.82 478.65) rotate(-45) scale(1 1.0800)" font-size="9.5" fill="#4D4D4D" text-anchor="end">Chong 2020</text>
<line x1="577.75" y1="465.45" x2="577.75" y2="469.85" stroke="#333333" stroke-width="1.3"/>
<text transform="translate(583.05 478.65) rotate(-45) scale(1 1.0800)" font-size="9.5" fill="#4D4D4D" text-anchor="end">Prensner 2021</text>
<line x1="593.98" y1="465.45" x2="593.98" y2="469.85" stroke="#333333" stroke-width="1.3"/>
<text transform="translate(599.28 478.65) rotate(-45) scale(1 1.0800)" font-size="9.5" fill="#4D4D4D" text-anchor="end">Douka 2021</text>
<line x1="610.21" y1="465.45" x2="610.21" y2="469.85" stroke="#333333" stroke-width="1.3"/>
<text transform="translate(615.51 478.65) rotate(-45) scale(1 1.0800)" font-size="9.5" fill="#4D4D4D" text-anchor="end">Ouspenskaia 2021</text>
<line x1="626.44" y1="465.45" x2="626.44" y2="469.85" stroke="#333333" stroke-width="1.3"/>
<text transform="translate(631.74 478.65) rotate(-45) scale(1 1.0800)" font-size="9.5" fill="#4D4D4D" text-anchor="end">Cao 2022</text>
<line x1="642.67" y1="465.45" x2="642.67" y2="469.85" stroke="#333333" stroke-width="1.3"/>
<text transform="translate(647.97 478.65) rotate(-45) scale(1 1.0800)" font-size="9.5" fill="#4D4D4D" text-anchor="end">Bogaert 2022</text>
<line x1="658.90" y1="465.45" x2="658.90" y2="469.85" stroke="#333333" stroke-width="1.3"/>
<text transform="translate(664.20 478.65) rotate(-45) scale(1 1.0800)" font-size="9.5" fill="#4D4D4D" text-anchor="end">Chothani 2022</text>
<line x1="675.13" y1="465.45" x2="675.13" y2="469.85" stroke="#333333" stroke-width="1.3"/>
<text transform="translate(680.43 478.65) rotate(-45) scale(1 1.0800)" font-size="9.5" fill="#4D4D4D" text-anchor="end">Duffy 2022</text>
<text transform="translate(488.56 432.74) scale(1 1.2200)" font-size="5.0" fill="#111" stroke="#111" stroke-width="0.22" stroke-linejoin="round">15</text>
<line x1="493.92" y1="434.34" x2="497.10" y2="428.94" stroke="#222" stroke-width="0.75"/>
<text transform="translate(496.30 436.44) scale(1 1.2200)" font-size="5.0" fill="#111" stroke="#111" stroke-width="0.22" stroke-linejoin="round">473</text>
<text transform="translate(506.18 440.45) scale(1 1.2200)" font-size="5.0" fill="#111" stroke="#111" stroke-width="0.22" stroke-linejoin="round">2</text>
<line x1="508.76" y1="442.05" x2="511.94" y2="436.65" stroke="#222" stroke-width="0.75"/>
<text transform="translate(511.14 444.15) scale(1 1.2200)" font-size="5.0" fill="#111" stroke="#111" stroke-width="0.22" stroke-linejoin="round">228</text>
<text transform="translate(521.02 306.20) scale(1 1.2200)" font-size="5.0" fill="#111" stroke="#111" stroke-width="0.22" stroke-linejoin="round">98</text>
<line x1="526.38" y1="307.80" x2="529.56" y2="302.40" stroke="#222" stroke-width="0.75"/>
<text transform="translate(528.76 309.90) scale(1 1.2200)" font-size="5.0" fill="#111" stroke="#111" stroke-width="0.22" stroke-linejoin="round">240</text>
<text transform="translate(541.42 406.07) scale(1 1.2200)" font-size="5.0" fill="#111" stroke="#111" stroke-width="0.22" stroke-linejoin="round">1</text>
<line x1="544.00" y1="407.67" x2="547.18" y2="402.27" stroke="#222" stroke-width="0.75"/>
<text transform="translate(546.38 409.77) scale(1 1.2200)" font-size="5.0" fill="#111" stroke="#111" stroke-width="0.22" stroke-linejoin="round">9</text>
<text transform="translate(553.48 372.00) scale(1 1.2200)" font-size="5.0" fill="#111" stroke="#111" stroke-width="0.22" stroke-linejoin="round">85</text>
<line x1="558.84" y1="373.60" x2="562.02" y2="368.20" stroke="#222" stroke-width="0.75"/>
<text transform="translate(561.22 375.70) scale(1 1.2200)" font-size="5.0" fill="#111" stroke="#111" stroke-width="0.22" stroke-linejoin="round">400</text>
<text transform="translate(569.71 323.93) scale(1 1.2200)" font-size="5.0" fill="#111" stroke="#111" stroke-width="0.22" stroke-linejoin="round">48</text>
<line x1="575.07" y1="325.53" x2="578.25" y2="320.13" stroke="#222" stroke-width="0.75"/>
<text transform="translate(577.45 327.63) scale(1 1.2200)" font-size="5.0" fill="#111" stroke="#111" stroke-width="0.22" stroke-linejoin="round">135</text>
<text transform="translate(588.91 412.85) scale(1 1.2200)" font-size="5.0" fill="#111" stroke="#111" stroke-width="0.22" stroke-linejoin="round">1</text>
<line x1="591.49" y1="414.45" x2="594.66" y2="409.05" stroke="#222" stroke-width="0.75"/>
<text transform="translate(593.86 416.55) scale(1 1.2200)" font-size="5.0" fill="#111" stroke="#111" stroke-width="0.22" stroke-linejoin="round">11</text>
<text transform="translate(599.39 428.39) scale(1 1.2200)" font-size="5.0" fill="#111" stroke="#111" stroke-width="0.22" stroke-linejoin="round">200</text>
<line x1="607.53" y1="429.99" x2="610.71" y2="424.59" stroke="#222" stroke-width="0.75"/>
<text transform="translate(609.91 432.09) scale(1 1.2200)" font-size="5.0" fill="#111" stroke="#111" stroke-width="0.22" stroke-linejoin="round">4476</text>
<text transform="translate(621.18 443.40) scale(1 1.2200)" font-size="5.0" fill="#111" stroke="#111" stroke-width="0.22" stroke-linejoin="round">0</text>
<line x1="623.76" y1="445.00" x2="626.94" y2="439.60" stroke="#222" stroke-width="0.75"/>
<text transform="translate(626.14 447.10) scale(1 1.2200)" font-size="5.0" fill="#111" stroke="#111" stroke-width="0.22" stroke-linejoin="round">13</text>
<text transform="translate(638.80 443.40) scale(1 1.2200)" font-size="5.0" fill="#111" stroke="#111" stroke-width="0.22" stroke-linejoin="round">0</text>
<line x1="641.38" y1="445.00" x2="644.56" y2="439.60" stroke="#222" stroke-width="0.75"/>
<text transform="translate(643.76 447.10) scale(1 1.2200)" font-size="5.0" fill="#111" stroke="#111" stroke-width="0.22" stroke-linejoin="round">7</text>
<text transform="translate(650.86 437.82) scale(1 1.2200)" font-size="5.0" fill="#111" stroke="#111" stroke-width="0.22" stroke-linejoin="round">12</text>
<line x1="656.22" y1="439.42" x2="659.40" y2="434.02" stroke="#222" stroke-width="0.75"/>
<text transform="translate(658.60 441.52) scale(1 1.2200)" font-size="5.0" fill="#111" stroke="#111" stroke-width="0.22" stroke-linejoin="round">723</text>
<text transform="translate(669.87 419.40) scale(1 1.2200)" font-size="5.0" fill="#111" stroke="#111" stroke-width="0.22" stroke-linejoin="round">2</text>
<line x1="672.45" y1="421.00" x2="675.63" y2="415.60" stroke="#222" stroke-width="0.75"/>
<text transform="translate(674.83 423.10) scale(1 1.2200)" font-size="5.0" fill="#111" stroke="#111" stroke-width="0.22" stroke-linejoin="round">28</text>
<text transform="translate(442.10 376.30) rotate(-90) scale(1 1.0300)" font-size="9.3" fill="#000" text-anchor="middle" letter-spacing="0.18">Percent reported sORF-encoded</text>
<text transform="translate(452.20 376.30) rotate(-90) scale(1 1.0300)" font-size="9.3" fill="#000" text-anchor="middle" letter-spacing="0.18">peptides found in another study</text>
<text transform="translate(463.00 376.80) rotate(-90) scale(1 1.0300)" font-size="9.3" fill="#000" text-anchor="middle" letter-spacing="0.18">excluding ProteoMapper hits</text>
<text transform="translate(427.40 289.90)" font-size="13.5" fill="#000" font-weight="bold">D</text>
</svg></body></html>
